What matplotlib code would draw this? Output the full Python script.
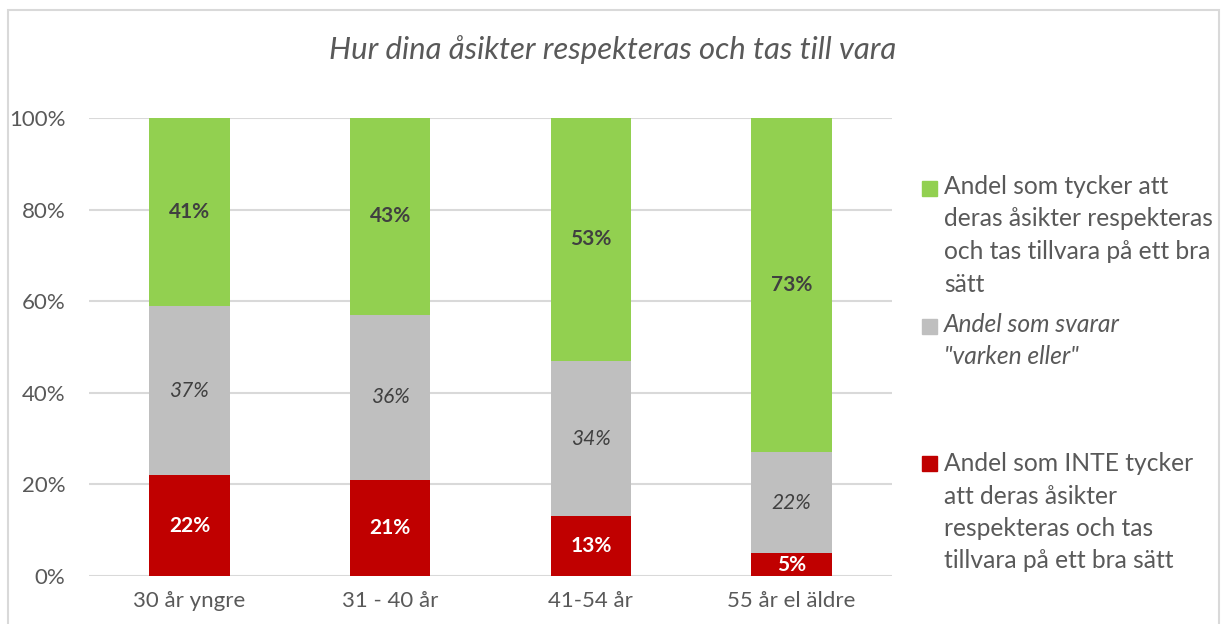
import matplotlib.pyplot as plt
from matplotlib.patches import Rectangle
import numpy as np

# Data (percent)
categories = ['30 år yngre', '31 - 40 år', '41-54 år', '55 år el äldre']
inte = [22, 21, 13, 5]          # Andel som INTE tycker ...
varken = [37, 36, 34, 22]       # "varken eller"
tycker = [41, 43, 53, 73]       # Andel som tycker ...
yticks = [0, 20, 40, 60, 80, 100]

legend_labels = [
    'Andel som tycker att\nderas åsikter respekteras\noch tas tillvara på ett bra\nsätt',
    'Andel som svarar\n"varken eller"',
    'Andel som INTE tycker\natt deras åsikter\nrespekteras och tas\ntillvara på ett bra sätt',
]

green = '#92D050'
grey = '#BFBFBF'
red = '#C00000'
txt = '#595959'
grid_c = '#D9D9D9'

plt.rcParams['font.family'] = ['Lato', 'DejaVu Sans']

fig = plt.figure(figsize=(12.22, 6.24), dpi=100)
ax = fig.add_axes([89 / 1222, 1 - 576 / 624, (892 - 89) / 1222, (576 - 118) / 624])

x = np.arange(len(categories))
w = 0.4
inte = np.array(inte)
varken = np.array(varken)
tycker = np.array(tycker)

ax.bar(x, inte, w, color=red, zorder=3)
ax.bar(x, varken, w, bottom=inte, color=grey, zorder=3)
ax.bar(x, tycker, w, bottom=inte + varken, color=green, zorder=3)

# data labels
for i in range(len(x)):
    ax.text(x[i], inte[i] / 2, f'{inte[i]}%', ha='center', va='center',
            color='white', fontsize=15, fontweight='bold', zorder=4)
    ax.text(x[i], inte[i] + varken[i] / 2, f'{varken[i]}%', ha='center', va='center',
            color='#404040', fontsize=15, style='italic', zorder=4)
    ax.text(x[i], inte[i] + varken[i] + tycker[i] / 2, f'{tycker[i]}%', ha='center',
            va='center', color='#404040', fontsize=15, fontweight='bold', zorder=4)

ax.set_xlim(-0.5, 3.5)
ax.set_ylim(0, 100)
ax.set_yticks(yticks)
ax.set_yticklabels([f'{v}%' for v in yticks])
ax.set_xticks(x)
ax.set_xticklabels(categories)
ax.tick_params(axis='both', length=0, labelsize=16, colors=txt)
ax.tick_params(axis='y', pad=17)
ax.tick_params(axis='x', pad=11)
ax.grid(axis='y', color=grid_c, linewidth=1.5, zorder=0)
for s in ax.spines.values():
    s.set_visible(False)

fig.text(613 / 1222, 1 - 50 / 624, 'Hur dina åsikter respekteras och tas till vara',
         ha='center', va='center', fontsize=22.4, style='italic', color=txt)

# legend drawn by hand so the entries sit like the original
leg_colors = [green, grey, red]
leg_square_top = [181, 319, 456]
leg_text_top = [175, 313, 452]
for col, top, ttop, lab, k in zip(leg_colors, leg_square_top, leg_text_top,
                                  legend_labels, range(3)):
    fig.patches.append(Rectangle((922 / 1222, 1 - (top + 15) / 624), 15 / 1222, 15 / 624,
                                 transform=fig.transFigure, color=col))
    fig.text(944 / 1222, 1 - ttop / 624, lab, ha='left', va='top', fontsize=17.7,
             color=txt, linespacing=1.5, style='italic' if k == 1 else 'normal')

# chart border
fig.patches.append(Rectangle((8 / 1222, -0.01), (1219 - 8) / 1222, 1 - 10 / 624 + 0.01,
                             transform=fig.transFigure, fill=False, edgecolor=grid_c,
                             linewidth=1.5))

fig.savefig('out.png', dpi=100)
